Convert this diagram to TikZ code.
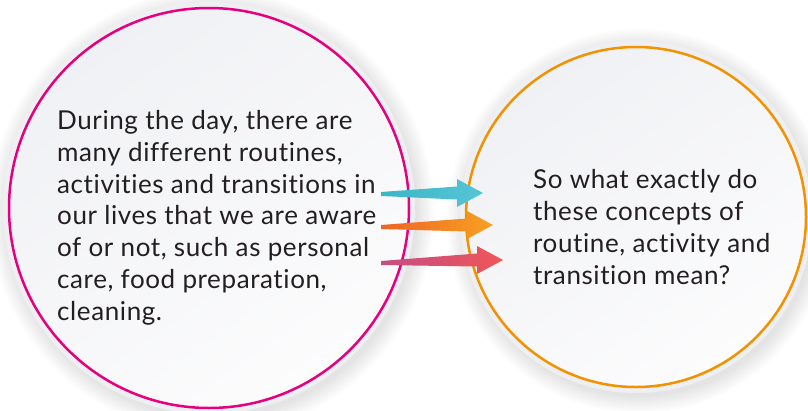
\documentclass[tikz,border=0pt]{standalone}
\usepackage{fontspec}
\setmainfont{Lato}[LetterSpace=2.3, Ligatures={NoCommon,NoRequired,NoContextual}]
\usetikzlibrary{calc}
\definecolor{ink}{HTML}{231F20}
\definecolor{magentaline}{HTML}{E6007E}
\definecolor{orangeline}{HTML}{F39200}
\definecolor{discrim}{HTML}{EEEFF3}
\definecolor{discA}{HTML}{F0F1F4}
\definecolor{discB}{HTML}{FCFCFD}
\definecolor{cyanA}{HTML}{3BB6C4}
\definecolor{cyanB}{HTML}{56C5D8}
\definecolor{orangeA}{HTML}{EE6424}
\definecolor{orangeB}{HTML}{F7A123}
\definecolor{roseA}{HTML}{C44E82}
\definecolor{roseB}{HTML}{EF5659}
\tikzset{
  bubble/.style={circle, minimum size=#1, inner sep=0pt, line width=2.5pt,
    top color=discA, bottom color=discB, shading angle=35},
  rim/.style={fill=discrim},
  bodytext/.style={align=left, inner sep=0pt, anchor=base west, text=ink,
    font=\fontsize{26}{31.7}\selectfont},
}
% soft shadow: stacked translucent discs
\newcommand\softshadow[2]{%
  \foreach \r in {0,2,...,16}{\fill[black, opacity=0.012] ($(#1)+(3,4)$) circle (#2+\r);}}
% tapered arrow from a tail coordinate to a tip coordinate
\newcommand\taper[4]{%
  \shade[left color=#3, right color=#4]
    ($(#1)+(0,-2)$) -- ($(#2)+(-26,-6.5)$) -- ($(#2)+(-26,-14)$) -- (#2)
    -- ($(#2)+(-26,14)$) -- ($(#2)+(-26,6.5)$) -- ($(#1)+(0,2)$) -- cycle;}
\begin{document}
\begin{tikzpicture}[x=1pt,y=-1pt]
  \useasboundingbox[fill=white] (0,0) rectangle (808,410);
  \coordinate (cL) at (209,208);
  \coordinate (cR) at (636,217);
  % shadows and rims
  \softshadow{cL}{206}
  \softshadow{cR}{176}
  \fill[rim] (cL) circle (206);
  \fill[rim] (cR) circle (176);
  % the two bubbles
  \node[bubble=400pt, draw=magentaline] (L) at (cL) {};
  \node[bubble=340pt, draw=orangeline] (R) at (cR) {};
  % arrows between the bubbles
  \coordinate (t1) at (381,194); \coordinate (h1) at (483,193);
  \coordinate (t2) at (381,227); \coordinate (h2) at (493,225);
  \coordinate (t3) at (381,263); \coordinate (h3) at (503,260);
  \taper{t1}{h1}{cyanA}{cyanB}
  \taper{t2}{h2}{orangeA}{orangeB}
  \taper{t3}{h3}{roseA}{roseB}
  % texts (anchored at the baseline of their last line)
  \node[bodytext] (tl) at (57,320) {During the day, there are\\many different routines,\\activities and transitions in\\our lives that we are aware\\of or not, such as personal\\care, food preparation,\\cleaning.};
  \node[bodytext] (tr) at (533,284) {So what exactly do\\these concepts of\\routine, activity and\\transition mean?};
\end{tikzpicture}
\end{document}
